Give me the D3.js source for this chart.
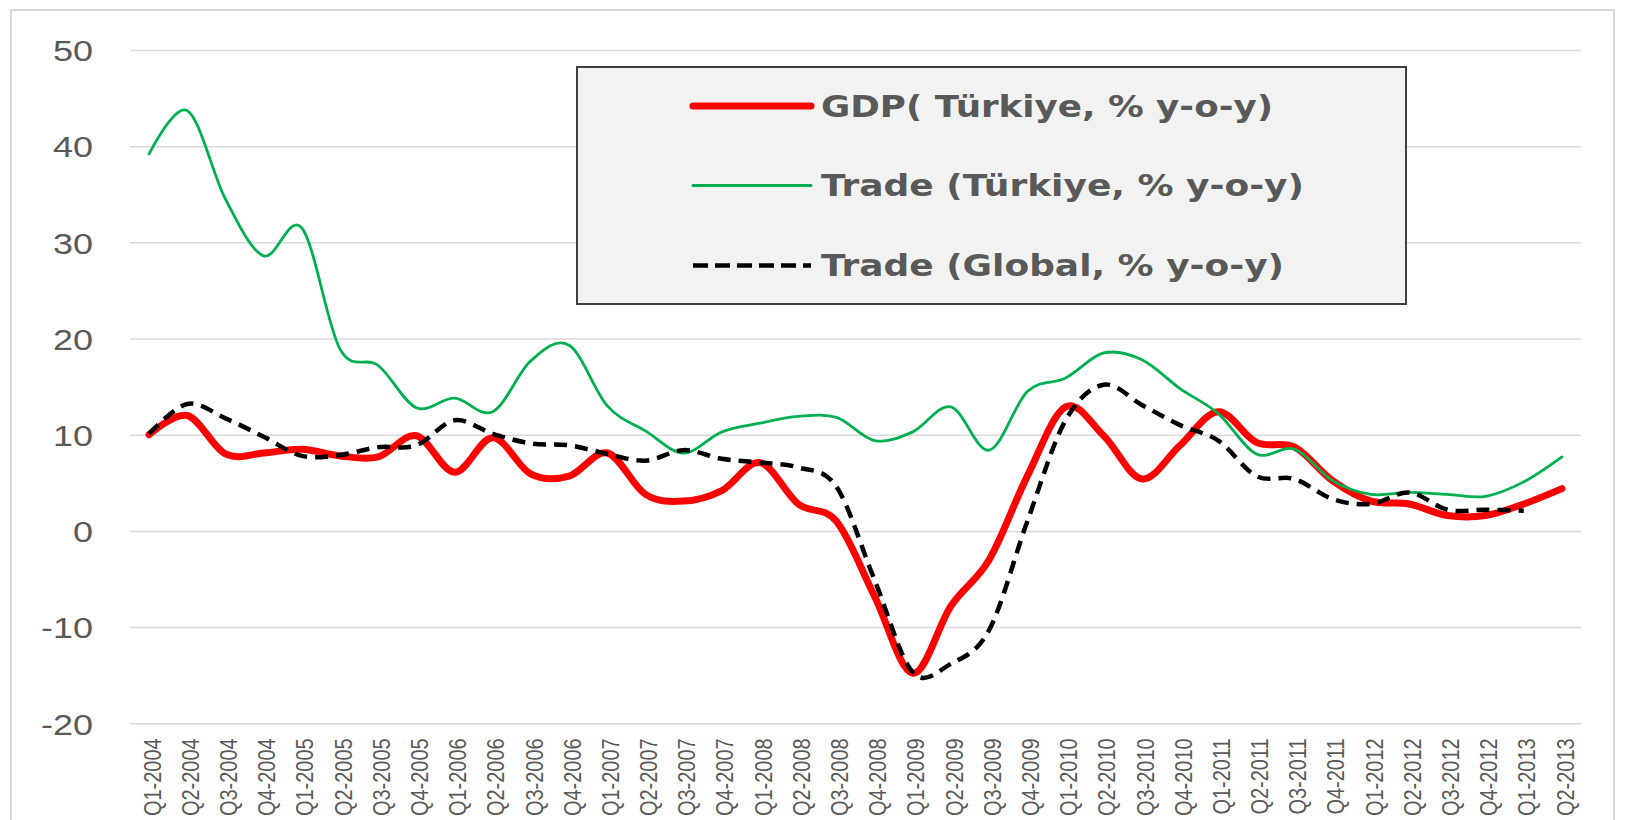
<!DOCTYPE html>
<html lang="en">
<meta charset="utf-8">
<style type="text/css">
        body {
          margin: 0;
          background: #fff;
        }
        svg {
          display: block;
        }
        .grid line {
          stroke: #d9d9d9;
          stroke-width: 1.5px;
        }
        .tick text {
          fill: #595959;
        }
</style>
<body>
<script src="https://d3js.org/d3.v7.min.js" type="text/javascript"></script>
<script>
var quarters = ["Q1-2004","Q2-2004","Q3-2004","Q4-2004","Q1-2005","Q2-2005","Q3-2005","Q4-2005",
    "Q1-2006","Q2-2006","Q3-2006","Q4-2006","Q1-2007","Q2-2007","Q3-2007","Q4-2007",
    "Q1-2008","Q2-2008","Q3-2008","Q4-2008","Q1-2009","Q2-2009","Q3-2009","Q4-2009",
    "Q1-2010","Q2-2010","Q3-2010","Q4-2010","Q1-2011","Q2-2011","Q3-2011","Q4-2011",
    "Q1-2012","Q2-2012","Q3-2012","Q4-2012","Q1-2013","Q2-2013"];

// GDP (Türkiye, % y-o-y)
var gdp = [10.0, 12.0, 8.0, 8.1, 8.5, 7.8, 7.7, 9.9, 6.1, 9.7, 5.9, 5.7, 8.1, 3.8, 3.1, 4.2,
    7.1, 2.8, 1.0, -6.8, -14.8, -7.8, -3.0, 5.7, 12.9, 9.9, 5.4, 8.9, 12.4, 9.2, 8.7, 5.2,
    3.1, 2.8, 1.6, 1.6, 2.8, 4.4];

// Trade (Türkiye, % y-o-y)
var tradeTr = [39.2, 43.7, 34.5, 28.6, 31.5, 18.9, 17.2, 12.8, 13.8, 12.4, 17.7, 19.3, 13.0, 10.4, 8.1, 10.3,
    11.2, 11.9, 11.8, 9.4, 10.3, 12.9, 8.4, 14.5, 15.9, 18.5, 17.8, 14.8, 12.2, 8.0, 8.5, 5.2,
    3.8, 4.0, 3.8, 3.6, 5.1, 7.7];

// Trade (Global, % y-o-y) - no value for the last quarter
var tradeGl = [10.1, 13.2, 11.7, 9.8, 7.8, 7.9, 8.7, 8.9, 11.5, 10.1, 9.1, 8.9, 8.0, 7.3, 8.4, 7.5,
    7.1, 6.6, 4.6, -5.1, -14.7, -13.8, -10.3, 1.0, 11.5, 15.2, 13.1, 11.0, 9.4, 5.7, 5.4, 3.3,
    2.8, 4.0, 2.2, 2.2, 2.1, null];

var yTicks = [-20, -10, 0, 10, 20, 30, 40, 50];

var legendLabels = ["GDP( Türkiye, % y-o-y)", "Trade (Türkiye, % y-o-y)", "Trade (Global, % y-o-y)"];

var width = 1627,
    height = 820,
    plotLeft = 130,
    plotRight = 1581,
    plotTop = 50,
    plotBottom = 723.3;

var svg = d3.select("body").append("svg")
    .attr("width", width)
    .attr("height", height);

// outer chart frame
svg.append("rect")
    .attr("x", 11).attr("y", 10)
    .attr("width", 1603).attr("height", 830)
    .attr("fill", "#fff")
    .attr("stroke", "#d9d9d9")
    .attr("stroke-width", 2);

var x = d3.scalePoint()
    .domain(quarters)
    .range([plotLeft, plotRight])
    .padding(0.5);

var y = d3.scaleLinear()
    .domain([-20, 50])
    .range([plotBottom, plotTop]);

// y axis with gridlines
var yAxis = svg.append("g")
    .attr("class", "grid")
    .attr("transform", "translate(" + plotLeft + ",0)")
    .call(d3.axisLeft(y)
        .tickValues(yTicks)
        .tickFormat(function (d) { return String(d); })
        .tickSize(-(plotRight - plotLeft))
        .tickPadding(37));
yAxis.select(".domain").remove();
yAxis.selectAll("text")
    .attr("x", 0)
    .attr("dy", "0.36em")
    .attr("transform", "translate(-37,0) scale(1.2,1)")
    .style("font-family", "'Liberation Sans', Arial, sans-serif")
    .style("font-size", "30px");

// x axis labels, rotated
var xAxis = svg.append("g")
    .attr("transform", "translate(0," + plotBottom + ")")
    .call(d3.axisBottom(x).tickSize(0));
xAxis.select(".domain").remove();
xAxis.selectAll("text")
    .attr("x", 0).attr("y", 0)
    .attr("dy", "0.36em")
    .attr("text-anchor", "end")
    .attr("transform", "translate(2.5,15) scale(1.2,1) rotate(-90)")
    .style("font-family", "'Liberation Sans', Arial, sans-serif")
    .style("font-size", "20px");

function lineFor(values) {
    return d3.line()
        .defined(function (d) { return d != null; })
        .x(function (d, i) { return x(quarters[i]); })
        .y(function (d) { return y(d); })
        .curve(d3.curveCardinal.tension(0))(values);
}

var series = [
    {values: gdp, color: "#ff0000", width: 7, dash: null},
    {values: tradeTr, color: "#00b050", width: 2.8, dash: null},
    {values: tradeGl, color: "#000000", width: 4.5, dash: "13,8"}
];

svg.selectAll(".series")
    .data(series)
    .enter().append("path")
    .attr("class", "series")
    .attr("d", function (d) { return lineFor(d.values); })
    .attr("fill", "none")
    .attr("stroke", function (d) { return d.color; })
    .attr("stroke-width", function (d) { return d.width; })
    .attr("stroke-dasharray", function (d) { return d.dash; })
    .attr("stroke-linejoin", "round")
    .attr("stroke-linecap", function (d) { return d.dash ? "butt" : "round"; });

// legend
var legend = svg.append("g");
legend.append("rect")
    .attr("x", 577).attr("y", 67)
    .attr("width", 829).attr("height", 237)
    .attr("fill", "#f2f2f2")
    .attr("stroke", "#404040")
    .attr("stroke-width", 2);

var rowY = [106, 185.5, 265.5],
    textLen = [452, 483, 463];

var item = legend.selectAll(".item")
    .data(series)
    .enter().append("g")
    .attr("class", "item")
    .attr("transform", function (d, i) { return "translate(0," + rowY[i] + ")"; });

item.append("line")
    .attr("x1", 693).attr("x2", 811)
    .attr("stroke", function (d) { return d.color; })
    .attr("stroke-width", function (d) { return d.dash ? 4.5 : (d.width > 5 ? 7 : 3); })
    .attr("stroke-dasharray", function (d) { return d.dash ? "15,7" : null; })
    .attr("stroke-linecap", function (d) { return d.dash ? "butt" : "round"; });

item.append("text")
    .attr("x", 821)
    .attr("dy", "0.36em")
    .attr("textLength", function (d, i) { return textLen[i]; })
    .attr("lengthAdjust", "spacingAndGlyphs")
    .style("font-family", "'DejaVu Sans', Verdana, sans-serif")
    .style("font-weight", "bold")
    .style("font-size", "30px")
    .style("fill", "#595959")
    .text(function (d, i) { return legendLabels[i]; });
</script>
</body>
</html>
